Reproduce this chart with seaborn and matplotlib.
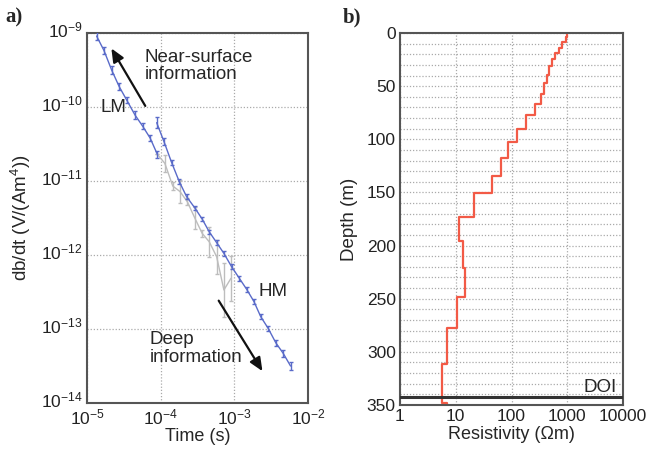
import matplotlib
matplotlib.use("Agg")
import matplotlib.pyplot as plt
import matplotlib.transforms as mtransforms
import numpy as np
import pandas as pd
import seaborn as sns
from matplotlib.ticker import LogLocator, MultipleLocator, FixedLocator, NullFormatter, LogFormatterSciNotation

# --- dane: krzywa LM (niebieska) ---
lm_time = [1.35e-5, 1.70e-5, 2.16e-5, 2.74e-5, 3.46e-5, 4.48e-5, 5.7e-5, 7.2e-5, 9.0e-5]
lm_dbdt = [9.1e-10, 5.8e-10, 3.16e-10, 1.88e-10, 1.24e-10, 7.8e-11, 5.5e-11, 3.8e-11, 2.3e-11]
lm_err_dex = [0.06, 0.05, 0.05, 0.05, 0.04, 0.05, 0.04, 0.04, 0.05]

# LM - odrzucone punkty (szare)
lm_gray_time = [9.0e-5, 1.14e-4, 1.46e-4, 1.83e-4, 2.30e-4, 2.92e-4, 3.66e-4, 4.56e-4, 5.75e-4, 7.22e-4, 9.0e-4]
lm_gray_dbdt = [2.3e-11, 1.73e-11, 8.55e-12, 7.2e-12, 5.25e-12, 3.13e-12, 1.96e-12, 1.51e-12, 9.5e-13, 3.37e-13, 4.84e-13]
lm_gray_err_dex = [0.0, 0.12, 0.05, 0.16, 0.05, 0.15, 0.05, 0.2, 0.23, 0.36, 0.3]

# --- krzywa HM ---
hm_time = [8.83e-5, 1.11e-4, 1.41e-4, 1.79e-4, 2.25e-4, 2.92e-4, 3.66e-4, 4.56e-4, 5.75e-4, 7.22e-4,
           9.18e-4, 1.17e-3, 1.47e-3, 1.85e-3, 2.28e-3, 2.88e-3, 3.66e-3, 4.6e-3, 5.8e-3]
hm_dbdt = [6.14e-11, 3.4e-11, 1.77e-11, 9.8e-12, 6.14e-12, 4.3e-12, 3.06e-12, 2.06e-12, 1.47e-12, 1.05e-12,
           6.95e-13, 4.84e-13, 3.44e-13, 2.34e-13, 1.47e-13, 1.02e-13, 6.5e-14, 4.7e-14, 3.16e-14]
hm_err_dex = [0.07, 0.05, 0.03, 0.03, 0.03, 0.03, 0.03, 0.03, 0.03, 0.03,
              0.03, 0.03, 0.03, 0.03, 0.03, 0.03, 0.04, 0.05, 0.05]

# tick osi (dekady)
time_ticks = [1e-5, 1e-4, 1e-3, 1e-2]
dbdt_ticks = [1e-14, 1e-13, 1e-12, 1e-11, 1e-10, 1e-9]

# --- model opornosci (warstwy) ---
layer_top = [0, 4, 8.5, 14, 19, 24.5, 31.5, 39.5, 47, 57, 67, 77, 90, 103, 118, 135, 151, 173,
             196, 221, 248, 278, 311, 348]
layer_res = [1000, 955, 810, 700, 605, 540, 480, 430, 385, 335, 265, 182, 124, 86, 66, 45, 21.6, 11.6,
             13.7, 14.7, 10.7, 7.1, 5.6, 6.9]
res_ticks = [1, 10, 100, 1000, 10000]
model_bottom = 360
doi_depth = 342.7

blue = "#5a6bc9"
gray = "#bdbdbd"
red = "#f25a46"
spine_col = "#555555"

sns.set_style("white")
plt.rcParams["font.family"] = ["Liberation Sans", "DejaVu Sans"]
plt.rcParams["mathtext.default"] = "regular"

fig = plt.figure(figsize=(6.65, 4.49), dpi=100)
ax1 = fig.add_axes([87 / 665, 1 - 403 / 449, 221 / 665, 370 / 449])
ax2 = fig.add_axes([400 / 665, 1 - 405 / 449, 223 / 665, 372 / 449])


def log_err(vals, dex):
    v = np.asarray(vals)
    d = np.asarray(dex)
    return np.vstack([v - v / 10 ** d, v * 10 ** d - v])


# --- panel a ---
ax1.errorbar(lm_gray_time, lm_gray_dbdt, yerr=log_err(lm_gray_dbdt, lm_gray_err_dex),
             color=gray, lw=1.0, elinewidth=1.0, capsize=1.5, zorder=2)
ax1.errorbar(lm_time, lm_dbdt, yerr=log_err(lm_dbdt, lm_err_dex),
             color=blue, lw=1.0, elinewidth=1.0, capsize=1.5, zorder=3)
ax1.errorbar(hm_time, hm_dbdt, yerr=log_err(hm_dbdt, hm_err_dex),
             color=blue, lw=1.0, elinewidth=1.0, capsize=1.5, zorder=3)

ax1.set_xscale("log")
ax1.set_yscale("log")
ax1.set_xlim(time_ticks[0], time_ticks[-1])
ax1.set_ylim(dbdt_ticks[0], dbdt_ticks[-1])
ax1.xaxis.set_major_locator(FixedLocator(time_ticks))
ax1.yaxis.set_major_locator(FixedLocator(dbdt_ticks))
ax1.xaxis.set_major_formatter(LogFormatterSciNotation())
ax1.yaxis.set_major_formatter(LogFormatterSciNotation())
ax1.xaxis.set_minor_locator(LogLocator(base=10, subs=np.arange(2, 10), numticks=20))
ax1.yaxis.set_minor_locator(LogLocator(base=10, subs=np.arange(2, 10), numticks=20))
ax1.xaxis.set_minor_formatter(NullFormatter())
ax1.yaxis.set_minor_formatter(NullFormatter())
ax1.grid(True, which="major", color="#aaaaaa", ls=(0, (1, 1.5)), lw=0.9)
ax1.set_xlabel("Time (s)", fontsize=13, labelpad=1)
ax1.set_ylabel("db/dt (V/(Am$^4$))", fontsize=13.5, labelpad=6)

ax1.text(1.53e-5, 9.7e-11, "LM", fontsize=13.5, va="center", ha="left")
ax1.text(2.16e-3, 3.19e-13, "HM", fontsize=13.5, va="center", ha="left")
ax1.text(6.1e-5, 3.6e-10, "Near-surface\ninformation", fontsize=13.5, va="center", ha="left",
         linespacing=1.05)
ax1.text(7.0e-5, 5.4e-14, "Deep\ninformation", fontsize=13.5, va="center", ha="left",
         linespacing=1.05)
ax1.annotate("", xy=(2.05e-5, 6.67e-10), xytext=(6.46e-5, 9.6e-11),
             arrowprops=dict(arrowstyle="-|>,head_length=0.8,head_width=0.35", color="#111111", lw=1.6))
ax1.annotate("", xy=(2.52e-3, 2.5e-14), xytext=(5.86e-4, 2.6e-13),
             arrowprops=dict(arrowstyle="-|>,head_length=0.8,head_width=0.35", color="#111111", lw=1.6))

# --- panel b ---
prof_x = []
prof_y = []
bottoms = layer_top[1:] + [model_bottom]
for top, bot, r in zip(layer_top, bottoms, layer_res):
    prof_x += [r, r]
    prof_y += [top, bot]
profile = pd.DataFrame({"res": prof_x, "depth": prof_y})
sns.lineplot(data=profile, x="res", y="depth", sort=False, estimator=None, color=red, lw=1.6, ax=ax2)

ax2.axhline(doi_depth, color="#333333", lw=2.2, zorder=4)
ax2.text(7600, doi_depth - 1.5, "DOI", fontsize=13.5, ha="right", va="bottom")

ax2.set_xscale("log")
ax2.set_xlim(res_ticks[0], res_ticks[-1])
ax2.set_ylim(350, 0)
ax2.xaxis.set_major_locator(FixedLocator(res_ticks))
ax2.xaxis.set_major_formatter(matplotlib.ticker.FuncFormatter(lambda v, p: f"{v:g}"))
ax2.xaxis.set_minor_locator(LogLocator(base=10, subs=np.arange(2, 10), numticks=20))
ax2.xaxis.set_minor_formatter(NullFormatter())
ax2.yaxis.set_major_locator(FixedLocator(np.arange(0, 351, 50)))
ax2.yaxis.set_minor_locator(MultipleLocator(10))
ax2.grid(True, which="major", axis="x", color="#aaaaaa", ls=(0, (1, 1.5)), lw=0.9)
ax2.grid(True, which="both", axis="y", color="#aaaaaa", ls=(0, (1, 1.5)), lw=0.9)
ax2.set_xlabel("Resistivity (\u03a9m)", fontsize=13, labelpad=1)
ax2.set_ylabel("Depth (m)", fontsize=13.5, labelpad=6)

for ax in (ax1, ax2):
    ax.set_axisbelow(True)
    for s in ax.spines.values():
        s.set_color(spine_col)
        s.set_linewidth(1.5)
    ax.tick_params(which="major", direction="in", length=3, width=0.8, colors=spine_col,
                   labelsize=12.5, labelcolor="#222222", pad=3)
    ax.tick_params(which="minor", direction="in", length=2, width=0.6, colors="#888888")

# lekko podniesione etykiety osi Y (jak w oryginale)
lift = mtransforms.ScaledTranslation(0, 4 / 100, fig.dpi_scale_trans)
for lab in ax1.get_yticklabels():
    lab.set_transform(lab.get_transform() + lift)

fig.text(5 / 665, 1 - 17 / 449, "a)", fontsize=15, fontweight="bold", family="Liberation Serif",
         va="center", ha="left")
fig.text(343 / 665, 1 - 17 / 449, "b)", fontsize=15, fontweight="bold", family="Liberation Serif",
         va="center", ha="left")

fig.savefig("out.png", dpi=100)
